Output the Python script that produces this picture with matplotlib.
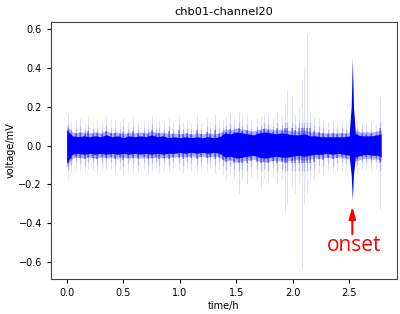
"""
chb01 channel 20 EEG trace, seizure onset marked
"""
from matplotlib import pyplot as plt
import numpy as np

# envelope of the dense core of the trace (h, mV)
t_env = [0.00, 0.05, 0.10, 0.15, 0.20, 0.25, 0.30, 0.35, 0.40, 0.45,
         0.50, 0.55, 0.60, 0.65, 0.70, 0.75, 0.80, 0.85, 0.90, 0.95,
         1.00, 1.05, 1.10, 1.15, 1.20, 1.25, 1.30, 1.35, 1.40, 1.45,
         1.50, 1.55, 1.60, 1.65, 1.70, 1.75, 1.80, 1.85, 1.90, 1.95,
         2.00, 2.05, 2.10, 2.15, 2.20, 2.25, 2.30, 2.35, 2.40, 2.45,
         2.50, 2.55, 2.60, 2.65, 2.70, 2.75, 2.78]
core_hi = [0.08, 0.05, 0.045, 0.05, 0.045, 0.05, 0.045, 0.055, 0.045, 0.05,
           0.04, 0.05, 0.045, 0.05, 0.045, 0.055, 0.045, 0.05, 0.04, 0.045,
           0.04, 0.045, 0.04, 0.045, 0.04, 0.045, 0.04, 0.045, 0.065, 0.06,
           0.07, 0.065, 0.06, 0.055, 0.065, 0.07, 0.065, 0.06, 0.065, 0.06,
           0.055, 0.055, 0.06, 0.05, 0.05, 0.045, 0.045, 0.045, 0.045, 0.045,
           0.05, 0.06, 0.05, 0.05, 0.05, 0.055, 0.06]
core_lo = [-0.09, -0.045, -0.04, -0.045, -0.04, -0.045, -0.04, -0.045, -0.04, -0.045,
           -0.04, -0.045, -0.04, -0.045, -0.04, -0.045, -0.04, -0.045, -0.04, -0.04,
           -0.035, -0.04, -0.035, -0.04, -0.035, -0.04, -0.035, -0.04, -0.06, -0.055,
           -0.065, -0.06, -0.055, -0.05, -0.06, -0.065, -0.06, -0.055, -0.06, -0.06,
           -0.055, -0.05, -0.055, -0.05, -0.045, -0.045, -0.04, -0.045, -0.04, -0.045,
           -0.05, -0.06, -0.05, -0.045, -0.05, -0.05, -0.06]

# onset burst
onset_t = [2.500, 2.515, 2.525, 2.535, 2.550]
onset_hi = [0.08, 0.20, 0.45, 0.20, 0.08]
onset_lo = [-0.07, -0.15, -0.28, -0.15, -0.07]

# isolated spikes (time, top, bottom)
spike_t = [0.01, 0.04, 0.08, 0.12, 0.16, 0.19, 0.23, 0.27, 0.31, 0.35,
           0.39, 0.43, 0.47, 0.50, 0.54, 0.59, 0.63, 0.68, 0.72, 0.75,
           0.79, 0.82, 0.86, 0.90, 0.94, 0.99, 1.03, 1.06, 1.10, 1.15,
           1.19, 1.24, 1.27, 1.31, 1.35, 1.38, 1.41, 1.44, 1.48, 1.52,
           1.55, 1.59, 1.63, 1.68, 1.72, 1.74, 1.78, 1.82, 1.86, 1.90,
           1.93, 1.95, 1.99, 2.02, 2.05, 2.08, 2.10, 2.12, 2.15, 2.19,
           2.23, 2.27, 2.31, 2.35, 2.39, 2.43, 2.47, 2.57, 2.61, 2.65,
           2.69, 2.73, 2.77]
spike_hi = [0.16, 0.12, 0.13, 0.14, 0.12, 0.15, 0.12, 0.13, 0.12, 0.15,
            0.13, 0.13, 0.12, 0.14, 0.12, 0.145, 0.12, 0.13, 0.12, 0.155,
            0.12, 0.13, 0.12, 0.145, 0.12, 0.155, 0.12, 0.13, 0.12, 0.155,
            0.12, 0.14, 0.12, 0.16, 0.12, 0.13, 0.14, 0.165, 0.14, 0.18,
            0.15, 0.155, 0.13, 0.14, 0.15, 0.165, 0.155, 0.14, 0.18, 0.15,
            0.22, 0.29, 0.26, 0.16, 0.20, 0.345, 0.40, 0.575, 0.18, 0.15,
            0.14, 0.13, 0.12, 0.13, 0.12, 0.13, 0.12, 0.13, 0.12, 0.11,
            0.12, 0.11, 0.25]
spike_lo = [-0.18, -0.14, -0.12, -0.13, -0.14, -0.12, -0.13, -0.14, -0.12, -0.13,
            -0.12, -0.14, -0.12, -0.15, -0.13, -0.13, -0.14, -0.12, -0.14, -0.13,
            -0.12, -0.14, -0.13, -0.14, -0.12, -0.13, -0.14, -0.12, -0.13, -0.14,
            -0.12, -0.13, -0.12, -0.14, -0.12, -0.15, -0.17, -0.15, -0.18, -0.25,
            -0.18, -0.20, -0.16, -0.17, -0.22, -0.17, -0.19, -0.16, -0.20, -0.17,
            -0.35, -0.30, -0.22, -0.25, -0.20, -0.63, -0.30, -0.25, -0.18, -0.17,
            -0.14, -0.15, -0.13, -0.14, -0.13, -0.12, -0.13, -0.14, -0.12, -0.12,
            -0.13, -0.12, -0.33]

fig = plt.figure(figsize=(4.0, 3.14), dpi=100)
ax = fig.add_axes([0.1275, 0.111, 0.865, 0.819])

sh = np.array(spike_hi)
sl = np.array(spike_lo)
ax.vlines(spike_t, sl, sh, color='blue', alpha=0.12, linewidth=0.7)
ax.vlines(spike_t, np.maximum(sl * 0.7, -0.13), np.minimum(sh * 0.7, 0.12),
          color='blue', alpha=0.2, linewidth=1.0)
ax.vlines(spike_t, np.maximum(sl * 0.5, -0.09), np.minimum(sh * 0.5, 0.09),
          color='blue', alpha=0.35, linewidth=1.4)

ch = np.array(core_hi)
cl = np.array(core_lo)
ax.fill_between(t_env, cl - 0.02, ch + 0.02, color='blue', alpha=0.3, linewidth=0)
ax.fill_between(t_env, cl, ch, color='blue', linewidth=0)
ax.fill_between(onset_t, onset_lo, onset_hi, color='blue', linewidth=0)

ax.set_xlim(-0.139, 2.92)
ax.set_ylim(-0.688, 0.636)
ax.set_xticks([0.0, 0.5, 1.0, 1.5, 2.0, 2.5])
ax.set_yticks([-0.6, -0.4, -0.2, 0.0, 0.2, 0.4, 0.6])
ax.tick_params(labelsize=7, length=3)
ax.set_xlabel('time/h', fontsize=7, labelpad=2)
ax.set_ylabel('voltage/mV', fontsize=7, labelpad=2)
ax.set_title('chb01-channel20', fontsize=8.2, pad=5)
for s in ax.spines.values():
    s.set_color('#444444')

ax.annotate('', xy=(2.525, -0.30), xytext=(2.525, -0.47),
            arrowprops=dict(arrowstyle='-|>,head_width=0.2,head_length=0.7',
                            color='red', lw=1.5))
ax.text(2.54, -0.545, 'onset', color='red', fontsize=15, family='Open Sans',
        ha='center', va='baseline')

fig.savefig('out.png', dpi=100)
